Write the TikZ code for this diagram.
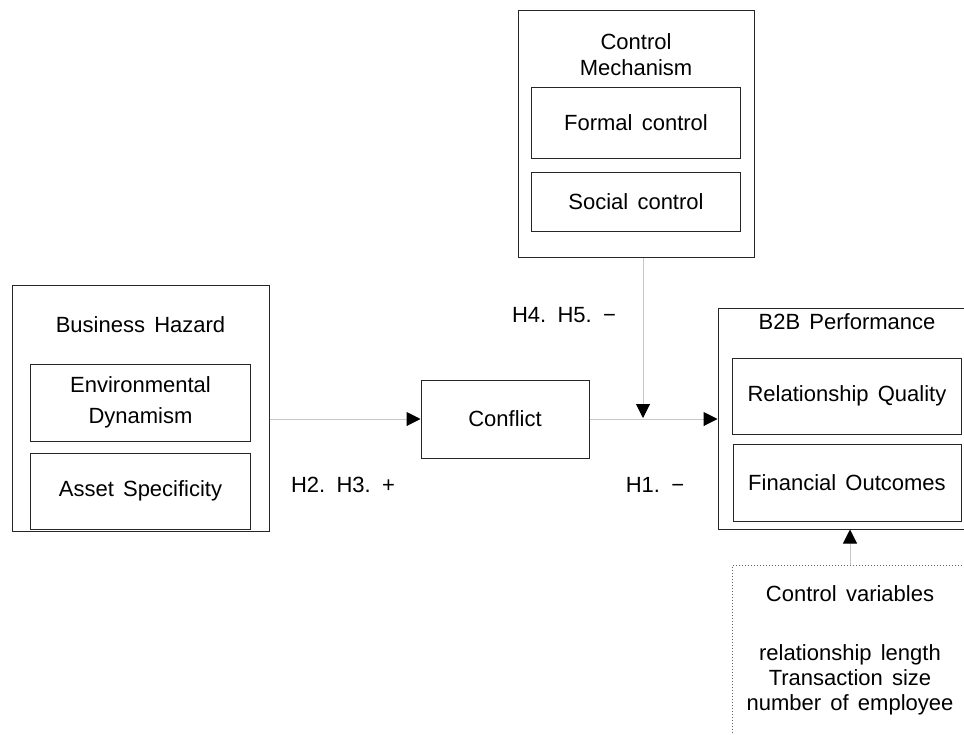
\documentclass[tikz,border=0pt]{standalone}
\usepackage{fontspec}
\setmainfont{Liberation Sans}
\usetikzlibrary{positioning,arrows.meta}

\newcommand\diagfont[1]{\fontsize{22}{#1}\selectfont\spaceskip=0.42em\relax}

\begin{document}
\begin{tikzpicture}[x=1pt,y=-1pt,
  every node/.style={font=\diagfont{26}},
  box/.style={draw=black!85,line width=1pt,inner sep=0pt},
  dotbox/.style={draw=black!60,line width=1pt,dotted,inner sep=0pt},
  link/.style={draw=black!22,line width=1pt,-{Triangle[length=14pt,width=14pt,color=black]}}]

  \useasboundingbox (0,0) rectangle (964,734);
  \clip (0,0) rectangle (964,734);

  % business hazard
  \node (hazard) [box,minimum width=257pt,minimum height=246pt] at (140.5,408) {};
  \node (hazardttl) [below=29pt of hazard.north] {Business Hazard};
  \node (env) [box,minimum width=220pt,minimum height=77pt,align=center,
    font=\diagfont{31},below=79pt of hazard.north] {Environmental\\Dynamism};
  \node (asset) [box,minimum width=220pt,minimum height=76pt,below=11pt of env] {Asset Specificity};

  % control mechanism
  \node (ctrl) [box,minimum width=236pt,minimum height=247pt] at (636,133.5) {};
  \node (ctrlttl) [align=center,below=21pt of ctrl.north] {Control\\Mechanism};
  \node (formal) [box,minimum width=209pt,minimum height=71pt,below=77pt of ctrl.north] {Formal control};
  \node (social) [box,minimum width=209pt,minimum height=59pt,below=13pt of formal] {Social control};

  \node (conflict) [box,minimum width=168pt,minimum height=78pt] at (505,419) {Conflict};

  % b2b performance
  \node (b2b) [box,minimum width=258pt,minimum height=221pt] at (847,418.5) {};
  \node (b2bttl) [below=3pt of b2b.north] {B2B Performance};
  \node (relq) [box,minimum width=229pt,minimum height=76pt,below=50pt of b2b.north] {Relationship Quality};
  \node (fin) [box,minimum width=228pt,minimum height=77pt,below=9pt of relq] {Financial Outcomes};

  % control variables
  \node (ctrlbox) [dotbox,minimum width=236pt,minimum height=190pt,anchor=north] at (850,565) {};
  \node (ctrlvars) [align=center,font=\diagfont{25},below=17pt of ctrlbox.north]
    {Control variables\\[34pt]relationship length\\Transaction size\\number of employee};

  \node (h23) at (343,485) {H2. H3. +};
  \node (h1) at (655,485) {H1. −};
  \node (h45) at (564,315) {H4. H5. −};

  \coordinate (join) at (643,420);

  \draw[link] (conflict.west -| hazard.east) -- (conflict.west);
  \draw[link] (conflict.east) -- (conflict.east -| b2b.west);
  \draw[link,shorten >=2pt] (ctrl.south -| join) -- (join);
  \draw[link] (ctrlbox.north) -- (ctrlbox.north |- b2b.south);

\end{tikzpicture}
\end{document}
